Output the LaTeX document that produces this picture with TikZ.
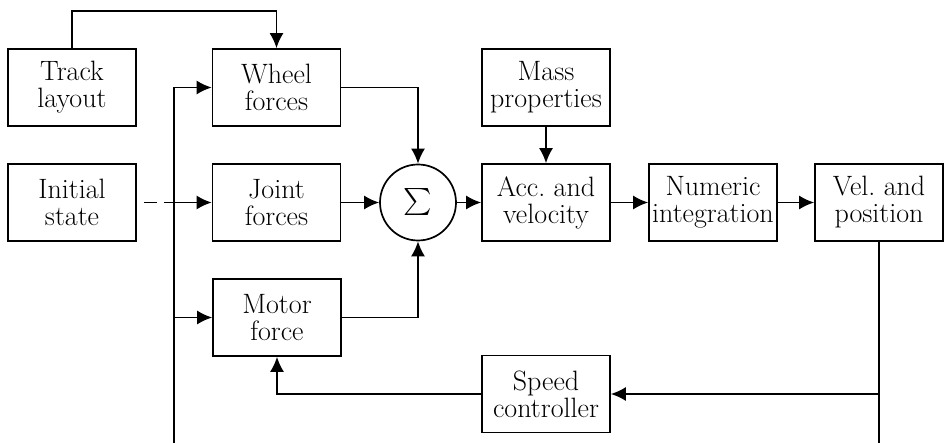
\documentclass[tikz,border=0pt]{standalone}
\usepackage{graphicx}
\usetikzlibrary{arrows.meta}
\begin{document}
\begin{tikzpicture}[x=1pt,y=1pt,
  every node/.style={font=\fontsize{28}{27}\selectfont},
  blockbox/.style={draw,line width=1.7pt,rectangle,minimum width=128pt,minimum height=77pt,align=center,inner sep=0pt},
  sumnode/.style={draw,line width=1.7pt,circle,minimum size=76pt,inner sep=0pt},
  conn/.style={line width=1.7pt},
  arr/.style={conn,-{Latex[length=15pt,width=14pt]}}]
\useasboundingbox (0,0) rectangle (945,-443);
\node[blockbox] (track) at (72,-87.5) {Track\\layout};
\node[blockbox] (wheel) at (276.5,-87.5) {Wheel\\forces};
\node[blockbox] (mass) at (546,-87.5) {Mass\\properties};
\node[blockbox] (init) at (72,-202.5) {Initial\\state};
\node[blockbox] (joint) at (276.5,-202.5) {Joint\\forces};
\node[sumnode] (sum) at (418,-202.5) {\fontsize{10}{12}\selectfont\scalebox{2.7}{$\sum$}};
\node[blockbox] (acc) at (546,-202.5) {Acc.\ and\\velocity};
\node[blockbox] (num) at (713,-202.5) {Numeric\\integration};
\node[blockbox] (vel) at (879,-202.5) {Vel.\ and\\position};
\node[blockbox] (motor) at (277,-317.5) {Motor\\force};
\node[blockbox] (speed) at (546,-394) {Speed\\controller};
\coordinate (tt) at (276.5,-11);
\coordinate (busbot) at (174,-443);
\coordinate (busj) at (174,-202.5);
\coordinate (velbot) at (879,-443);
\draw[arr] (track.north) |- (tt) -- (wheel.north);
\draw[arr] (busbot) |- (wheel.west);
\draw[conn,dash pattern=on 13pt off 7pt,dash phase=13pt] (init.east) -- (busj);
\draw[arr] (busj) -- (joint.west);
\draw[arr] (busbot |- motor.west) -- (motor.west);
\draw[arr] (wheel.east) -| (sum.north);
\draw[arr] (joint.east) -- (sum.west);
\draw[arr] (motor.east) -| (sum.south);
\draw[arr] (sum.east) -- (acc.west);
\draw[arr] (mass.south) -- (acc.north);
\draw[arr] (acc.east) -- (num.west);
\draw[arr] (num.east) -- (vel.west);
\draw[conn] (vel.south) -- (velbot);
\draw[arr] (vel.south |- speed.east) -- (speed.east);
\draw[arr] (speed.west) -| (motor.south);
\end{tikzpicture}
\end{document}
